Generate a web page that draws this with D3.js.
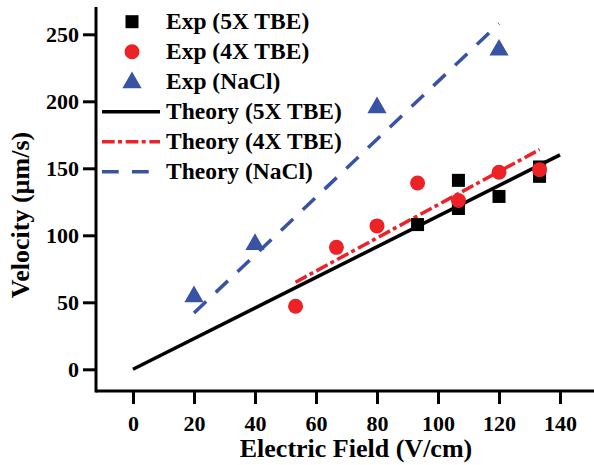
<!DOCTYPE html>
<html><head><meta charset="utf-8">
<script src="https://cdn.jsdelivr.net/npm/d3@7"></script>
<style>body{margin:0;background:#fff}svg{display:block}</style>
</head><body>
<script>
const xTicks = [0,20,40,60,80,100,120,140];
const yTicks = [0,50,100,150,200,250];
const exp5X = [[93.3,108],[106.7,141],[106.7,120],[120,129],[133.3,151],[133.3,144]];
const exp4X = [[53.3,47],[66.7,91],[80,107],[93.3,139],[106.7,126],[120,147],[133.3,149]];
const expNaCl = [[20,55],[40,94],[80,196],[120,239]];
const th5X = [[0,0],[140,160]];
const th4X = [[53.3,65],[133.3,164]];
const thNaCl = [[20,42],[120,258]];
const legendLabels = ["Exp (5X TBE)","Exp (4X TBE)","Exp (NaCl)","Theory (5X TBE)","Theory (4X TBE)","Theory (NaCl)"];

const W=594,H=465;
const BLACK="#000", RED="#ec2227", BLUE="#3852a4";
function serif(sel,size){
  return sel.attr("font-family","Liberation Serif").attr("font-size",size).attr("font-weight","bold")
    .style("font-family","'Liberation Serif'").style("font-size",size+"px").style("font-weight","bold");
}
const svg=d3.select("body").append("svg").attr("width",W).attr("height",H);
const xs=d3.scaleLinear().domain([0,140]).range([133,560]);
const ys=d3.scaleLinear().domain([0,250]).range([369.3,34.3]);
const axL=96, axB=391;

// axes
const gx=svg.append("g").attr("transform",`translate(0,${axB})`)
  .call(d3.axisBottom(xs).tickValues(xTicks).tickSize(13).tickPadding(11).tickFormat(d3.format("d")));
gx.select(".domain").remove();
const gy=svg.append("g").attr("transform",`translate(${axL},0)`)
  .call(d3.axisLeft(ys).tickValues(yTicks).tickSize(13).tickPadding(4).tickFormat(d3.format("d")));
gy.select(".domain").remove();
serif(gx,22); serif(gy,22);
svg.selectAll(".tick line").attr("stroke","#000").attr("stroke-width",3);
serif(svg.selectAll(".tick text").attr("fill","#000"),22);
svg.append("line").attr("x1",axL).attr("x2",W).attr("y1",axB).attr("y2",axB).attr("stroke","#000").attr("stroke-width",3);
svg.append("line").attr("x1",axL).attr("x2",axL).attr("y1",7).attr("y2",axB+1.5).attr("stroke","#000").attr("stroke-width",3);

// titles
serif(svg.append("text").attr("x",356).attr("y",457).attr("text-anchor","middle"),26).text("Electric Field (V/cm)");
serif(svg.append("text").attr("transform","translate(29,215) rotate(-90)").attr("text-anchor","middle"),26).text("Velocity (µm/s)");

// theory lines
const lineGen=d3.line().x(d=>xs(d[0])).y(d=>ys(d[1]));
svg.append("path").attr("d",lineGen(th5X)).attr("fill","none").attr("stroke",BLACK).attr("stroke-width",3.5);
svg.append("path").attr("d",lineGen(th4X)).attr("fill","none").attr("stroke",RED).attr("stroke-width",3.5).attr("stroke-dasharray","12.7 3.3 4 3.7");
svg.append("path").attr("d",lineGen(thNaCl)).attr("fill","none").attr("stroke",BLUE).attr("stroke-width",3.5).attr("stroke-dasharray","16.7 13.3");

// markers
const sq=13, tri=d3.symbol().type(d3.symbolTriangle).size(160);
svg.append("g").selectAll("rect").data(exp5X).join("rect")
  .attr("x",d=>xs(d[0])-sq/2).attr("y",d=>ys(d[1])-sq/2).attr("width",sq).attr("height",sq).attr("fill",BLACK);
svg.append("g").selectAll("circle").data(exp4X).join("circle")
  .attr("cx",d=>xs(d[0])).attr("cy",d=>ys(d[1])).attr("r",7.5).attr("fill",RED);
svg.append("g").selectAll("path").data(expNaCl).join("path")
  .attr("d",tri).attr("transform",d=>`translate(${xs(d[0])},${ys(d[1])+1})`).attr("fill",BLUE);

// legend
const lg=svg.append("g");
const rowY=i=>21.7+i*30;
lg.append("rect").attr("x",132-sq/2).attr("y",rowY(0)-sq/2).attr("width",sq).attr("height",sq).attr("fill",BLACK);
lg.append("circle").attr("cx",132).attr("cy",rowY(1)).attr("r",7.5).attr("fill",RED);
lg.append("path").attr("d",tri).attr("transform",`translate(132,${rowY(2)+1})`).attr("fill",BLUE);
const lsty=[[BLACK,null],[RED,"12.7 3.3 4 3.7"],[BLUE,"16.7 13.3"]];
lsty.forEach((s,i)=>{
  lg.append("line").attr("x1",102).attr("x2",160).attr("y1",rowY(3+i)).attr("y2",rowY(3+i))
    .attr("stroke",s[0]).attr("stroke-width",3.5).attr("stroke-dasharray",s[1]);
});
legendLabels.forEach((t,i)=>{
  serif(lg.append("text").attr("x",166).attr("y",rowY(i)+7.5),23.5).text(t);
});
</script>
</body></html>
